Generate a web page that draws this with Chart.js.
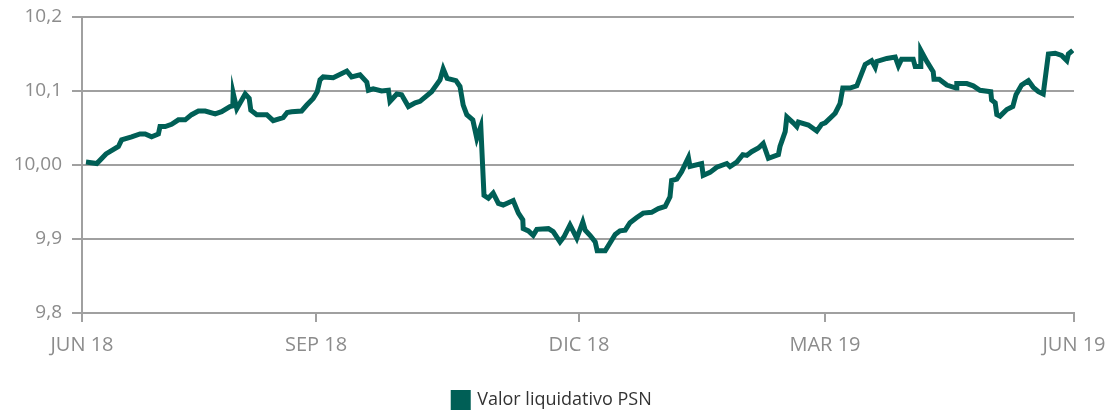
<!DOCTYPE html>
<html>
<head>
<meta charset="utf-8">
<script src="https://cdn.jsdelivr.net/npm/chart.js@4/dist/chart.umd.min.js"></script>
<style>
  html, body { margin: 0; padding: 0; background: #fff; }
  #wrap { width: 1105px; height: 415px; }
</style>
</head>
<body>
<div id="wrap"><canvas id="chart"></canvas></div>
<script>
// x = trading position along the year (0 = JUN 18, 248 = JUN 19)
var xs = [1.0, 3.7, 6.0, 9.1, 9.9, 12.4, 14.5, 15.8, 17.4, 19.1, 19.5, 20.8, 22.4, 24.1, 25.8, 27.4, 29.1, 30.8, 33.3, 34.9,
  37.0, 37.7, 37.8, 38.7, 40.8, 41.8, 42.2, 43.7, 46.2, 47.8, 50.3, 51.3, 52.4, 54.9, 56.2, 57.8, 58.8, 59.5, 60.3, 62.8,
  66.2, 67.4, 69.5, 71.2, 71.6, 72.8, 74.9, 76.6, 77.0, 78.7, 79.9, 81.6, 83.3, 84.5, 87.4, 89.5, 90.3, 91.3, 93.5, 94.5,
  95.3, 96.2, 97.7, 98.7, 99.7, 100.5, 101.6, 102.8, 104.1, 105.3, 107.8, 109.1, 110.2, 110.3, 111.6, 112.8, 113.7, 116.6, 117.8, 119.5,
  120.5, 122.0, 123.7, 125.2, 125.8, 127.0, 128.3, 128.8, 130.8, 133.3, 134.5, 135.8, 137.0, 138.7, 140.3, 142.4, 144.1, 145.8, 147.0, 147.4,
  148.7, 149.9, 151.6, 152.0, 154.9, 155.3, 157.0, 158.7, 161.2, 162.0, 163.7, 165.2, 166.2, 167.4, 169.1, 170.3, 171.6, 174.1, 174.5, 175.8,
  176.2, 177.8, 178.7, 179.1, 181.6, 183.7, 184.9, 185.8, 188.3, 189.5, 190.2, 192.0, 193.7, 195.8, 197.4, 198.3, 198.7, 201.2, 203.3, 204.1,
  204.9, 207.8, 208.3, 209.5, 209.7, 211.2, 212.8, 213.0, 214.3, 216.2, 218.5, 218.7, 221.2, 222.8, 224.5, 227.2, 227.4, 228.3, 228.7, 229.5,
  231.2, 232.7, 233.5, 234.9, 236.6, 237.8, 239.1, 240.3, 241.6, 243.3, 244.9, 246.2, 246.6, 247.7];

var valores = [10.004, 10.002, 10.015, 10.025, 10.034, 10.038, 10.042, 10.042, 10.038, 10.042, 10.052, 10.052, 10.055, 10.061, 10.061, 10.068, 10.073, 10.073, 10.069, 10.072,
  10.079, 10.080, 10.097, 10.076, 10.096, 10.090, 10.074, 10.068, 10.068, 10.060, 10.064, 10.071, 10.072, 10.073, 10.081, 10.090, 10.099, 10.115, 10.119, 10.118,
  10.127, 10.119, 10.122, 10.112, 10.101, 10.103, 10.100, 10.101, 10.086, 10.096, 10.095, 10.079, 10.084, 10.086, 10.099, 10.115, 10.130, 10.117, 10.114, 10.106,
  10.081, 10.068, 10.061, 10.036, 10.052, 9.959, 9.955, 9.962, 9.948, 9.946, 9.952, 9.935, 9.926, 9.914, 9.911, 9.905, 9.913, 9.914, 9.910, 9.896,
  9.903, 9.919, 9.901, 9.923, 9.912, 9.905, 9.896, 9.884, 9.884, 9.906, 9.911, 9.912, 9.922, 9.929, 9.935, 9.936, 9.941, 9.944, 9.957, 9.979,
  9.981, 9.991, 10.010, 9.998, 10.002, 9.986, 9.990, 9.997, 10.002, 9.998, 10.004, 10.014, 10.013, 10.018, 10.023, 10.029, 10.009, 10.014, 10.025, 10.045,
  10.065, 10.057, 10.052, 10.058, 10.054, 10.046, 10.055, 10.057, 10.070, 10.083, 10.104, 10.104, 10.107, 10.136, 10.141, 10.132, 10.140, 10.144, 10.146, 10.134,
  10.143, 10.143, 10.133, 10.133, 10.155, 10.140, 10.126, 10.116, 10.116, 10.108, 10.104, 10.110, 10.110, 10.107, 10.101, 10.099, 10.088, 10.084, 10.068, 10.066,
  10.075, 10.079, 10.095, 10.108, 10.114, 10.105, 10.099, 10.096, 10.150, 10.151, 10.148, 10.141, 10.150, 10.155];

var xTickPos = [0, 58.5, 124.25, 185.75, 248];
var xTickLabels = ["JUN 18", "SEP 18", "DIC 18", "MAR 19", "JUN 19"];
var yTickVals = [9.8, 9.9, 10.0, 10.1, 10.2];
var yTickLabels = ["9,8", "9,9", "10,00", "10,1", "10,2"];

var verde = "#005f56";
var gris = "#a0a0a0";

var puntos = xs.map(function (x, i) { return { x: x, y: valores[i] }; });

new Chart(document.getElementById("chart"), {
  type: "line",
  data: {
    datasets: [{
      label: "Valor liquidativo PSN",
      data: puntos,
      borderColor: verde,
      backgroundColor: verde,
      borderWidth: 5,
      borderJoinStyle: "miter",
      pointRadius: 0,
      tension: 0
    }]
  },
  options: {
    responsive: true,
    maintainAspectRatio: false,
    animation: false,
    layout: { padding: { top: 0, right: 0, left: 0, bottom: -4 } },
    plugins: {
      tooltip: { enabled: false },
      legend: {
        position: "bottom",
        labels: {
          boxWidth: 15,
          boxHeight: 15,
          padding: 10,
          color: "#333",
          font: { family: "Open Sans", size: 18 }
        }
      }
    },
    scales: {
      x: {
        type: "linear",
        min: 0,
        max: 248,
        afterBuildTicks: function (axis) {
          axis.ticks = xTickPos.map(function (v) { return { value: v }; });
        },
        afterFit: function (axis) {
          axis.height = 68;
          axis.paddingRight = 31;
          axis.paddingLeft = 0;
        },
        ticks: {
          autoSkip: false,
          maxRotation: 0,
          padding: 11,
          color: "#8c8c8c",
          font: { family: "Open Sans", size: 20 },
          callback: function (v, i) { return xTickLabels[i]; }
        },
        grid: { drawOnChartArea: false, color: gris, lineWidth: 2, tickLength: 9 },
        border: { color: gris, width: 2 }
      },
      y: {
        min: 9.8,
        max: 10.2,
        afterBuildTicks: function (axis) {
          axis.ticks = yTickVals.map(function (v) { return { value: v }; });
        },
        afterFit: function (axis) {
          axis.width = 82;
          axis.paddingTop = 17;
          axis.paddingBottom = 0;
        },
        ticks: {
          padding: 10,
          color: "#8c8c8c",
          font: { family: "Open Sans", size: 19 },
          callback: function (v, i) { return yTickLabels[i]; }
        },
        grid: { color: gris, lineWidth: 2, tickLength: 10 },
        border: { color: gris, width: 2 }
      }
    }
  }
});
</script>
</body>
</html>
